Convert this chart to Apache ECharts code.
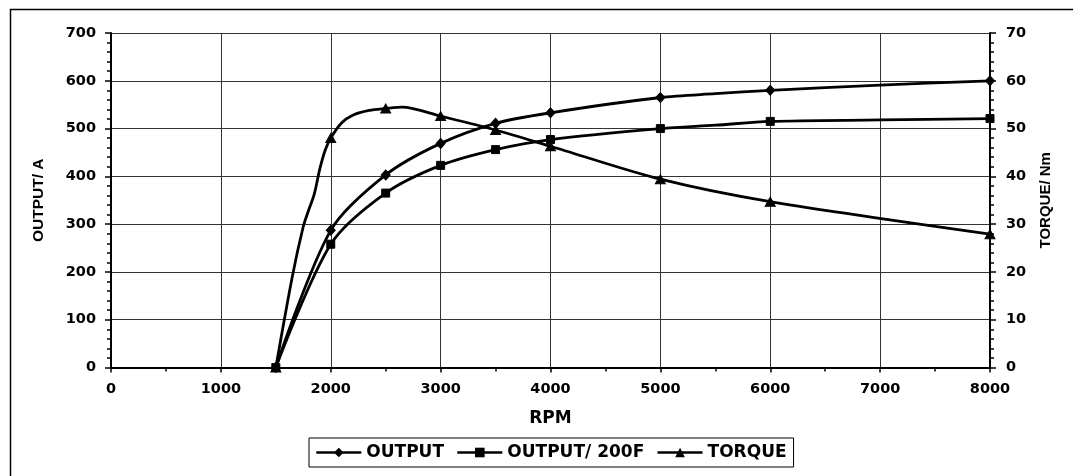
<!DOCTYPE html>
<html>
<head>
<meta charset="utf-8">
<script src="https://cdn.jsdelivr.net/npm/echarts@6/dist/echarts.min.js"></script>
<style>html,body{margin:0;padding:0;background:#fff;}#c{width:1073px;height:476px;}</style>
</head>
<body>
<div id="c"></div>
<script>
// ---- data ----
const outputRpm = [1500, 2000, 2500, 3000, 3500, 4000, 5000, 5500, 6000, 7000, 8000];
const outputA   = [0, 287, 403, 469, 511, 533, 565, 573, 580, 591, 600];
const outputMarked = [1, 1, 1, 1, 1, 1, 1, 0, 1, 0, 1];

const output200Rpm = [1500, 2000, 2500, 3000, 3500, 4000, 5000, 5500, 6000, 7000, 8000];
const output200A   = [0, 258, 365, 423, 456, 477, 500, 507, 515, 518, 521];
const output200Marked = [1, 1, 1, 1, 1, 1, 1, 0, 1, 0, 1];

const torqueRpm = [1500, 1650, 1750, 1800, 1850, 1900, 1950, 2000, 2100, 2200, 2350, 2500, 2650, 3000, 3500, 4000, 5000, 6000, 8000];
const torqueNm  = [0, 19, 29.5, 33, 36.3, 41.5, 45.5, 48, 51.2, 52.8, 53.8, 54.2, 54.5, 52.6, 49.7, 46.3, 39.4, 34.7, 27.9];
const torqueMarked = [1, 0, 0, 0, 0, 0, 0, 1, 0, 0, 0, 1, 0, 1, 1, 1, 1, 1, 1];

const seriesNames = ['OUTPUT', 'OUTPUT/ 200F', 'TORQUE'];
const xTicks = {min: 0, max: 8000, interval: 1000};
const yLeftTicks = {min: 0, max: 700, interval: 100};
const yRightTicks = {min: 0, max: 70, interval: 10};

function build(xs, ys, marks) {
  return xs.map((x, i) => marks[i] ? [x, ys[i]] : {value: [x, ys[i]], symbol: 'none'});
}

const hFont = 'DejaVu Sans';
const vFont = 'Liberation Sans';
const labelStyle = {color: '#000', fontFamily: hFont, fontWeight: 'bold', fontSize: 14.5, formatter: v => String(v)};

const chart = echarts.init(document.getElementById('c'), null, {renderer: 'canvas'});
chart.setOption({
  backgroundColor: '#fff',
  animation: false,
  graphic: [{
    type: 'rect', left: 8, top: 7, z: -1,
    shape: {x: 0, y: 0, width: 1075, height: 480},
    style: {fill: 'none', stroke: '#000', lineWidth: 1.5}
  }],
  grid: {left: 111, right: 83, top: 33, bottom: 108.5, containLabel: false},
  legend: {
    left: 309, top: 438,
    data: seriesNames,
    itemWidth: 45, itemHeight: 12, itemGap: 12,
    padding: [6, 7, 6, 6],
    borderColor: '#000', borderWidth: 1,
    lineStyle: {width: 2.6, color: '#000'},
    textStyle: {color: '#000', fontFamily: hFont, fontWeight: 'bold', fontSize: 17}
  },
  xAxis: {
    type: 'value', min: xTicks.min, max: xTicks.max, interval: xTicks.interval,
    name: 'RPM', nameLocation: 'middle', nameGap: 43,
    nameTextStyle: {color: '#000', fontFamily: hFont, fontWeight: 'bold', fontSize: 17},
    axisLine: {show: true, onZero: false, lineStyle: {color: '#000', width: 2}},
    axisTick: {show: true, inside: false, length: 5, lineStyle: {color: '#000', width: 1.5}},
    minorTick: {show: true, splitNumber: 2, length: 4, lineStyle: {color: '#000', width: 1.5}},
    axisLabel: Object.assign({margin: 14}, labelStyle),
    splitLine: {show: true, lineStyle: {color: '#333', width: 1}}
  },
  yAxis: [{
    type: 'value', min: yLeftTicks.min, max: yLeftTicks.max, interval: yLeftTicks.interval,
    position: 'left',
    name: 'OUTPUT/ A', nameLocation: 'middle', nameGap: 64,
    nameTextStyle: {color: '#000', fontFamily: vFont, fontWeight: 'bold', fontSize: 15.5},
    axisLine: {show: true, lineStyle: {color: '#000', width: 2}},
    axisTick: {show: true, inside: false, length: 6, lineStyle: {color: '#000', width: 1.5}},
    minorTick: {show: true, splitNumber: 5, length: 4, lineStyle: {color: '#000', width: 1.5}},
    axisLabel: Object.assign({margin: 15}, labelStyle),
    splitLine: {show: true, lineStyle: {color: '#333', width: 1}}
  }, {
    type: 'value', min: yRightTicks.min, max: yRightTicks.max, interval: yRightTicks.interval,
    position: 'right',
    name: 'TORQUE/ Nm', nameLocation: 'middle', nameGap: 48,
    nameTextStyle: {color: '#000', fontFamily: vFont, fontWeight: 'bold', fontSize: 15},
    axisLine: {show: true, lineStyle: {color: '#000', width: 2}},
    axisTick: {show: true, inside: false, length: 6, lineStyle: {color: '#000', width: 1.5}},
    minorTick: {show: true, splitNumber: 5, length: 4, lineStyle: {color: '#000', width: 1.5}},
    axisLabel: Object.assign({margin: 16}, labelStyle),
    splitLine: {show: false}
  }],
  series: [{
    name: seriesNames[0], type: 'line', yAxisIndex: 0,
    data: build(outputRpm, outputA, outputMarked),
    smooth: 0.3,
    symbol: 'diamond', symbolSize: [9, 10], showAllSymbol: true,
    lineStyle: {color: '#000', width: 2.8},
    itemStyle: {color: '#000', borderColor: '#000'}
  }, {
    name: seriesNames[1], type: 'line', yAxisIndex: 0,
    data: build(output200Rpm, output200A, output200Marked),
    smooth: 0.3,
    symbol: 'rect', symbolSize: 8, showAllSymbol: true,
    lineStyle: {color: '#000', width: 2.8},
    itemStyle: {color: '#000', borderColor: '#000'}
  }, {
    name: seriesNames[2], type: 'line', yAxisIndex: 1,
    data: build(torqueRpm, torqueNm, torqueMarked),
    smooth: 0.3,
    symbol: 'triangle', symbolSize: [10, 9], showAllSymbol: true,
    lineStyle: {color: '#000', width: 2.8},
    itemStyle: {color: '#000', borderColor: '#000'}
  }]
});
</script>
</body>
</html>
